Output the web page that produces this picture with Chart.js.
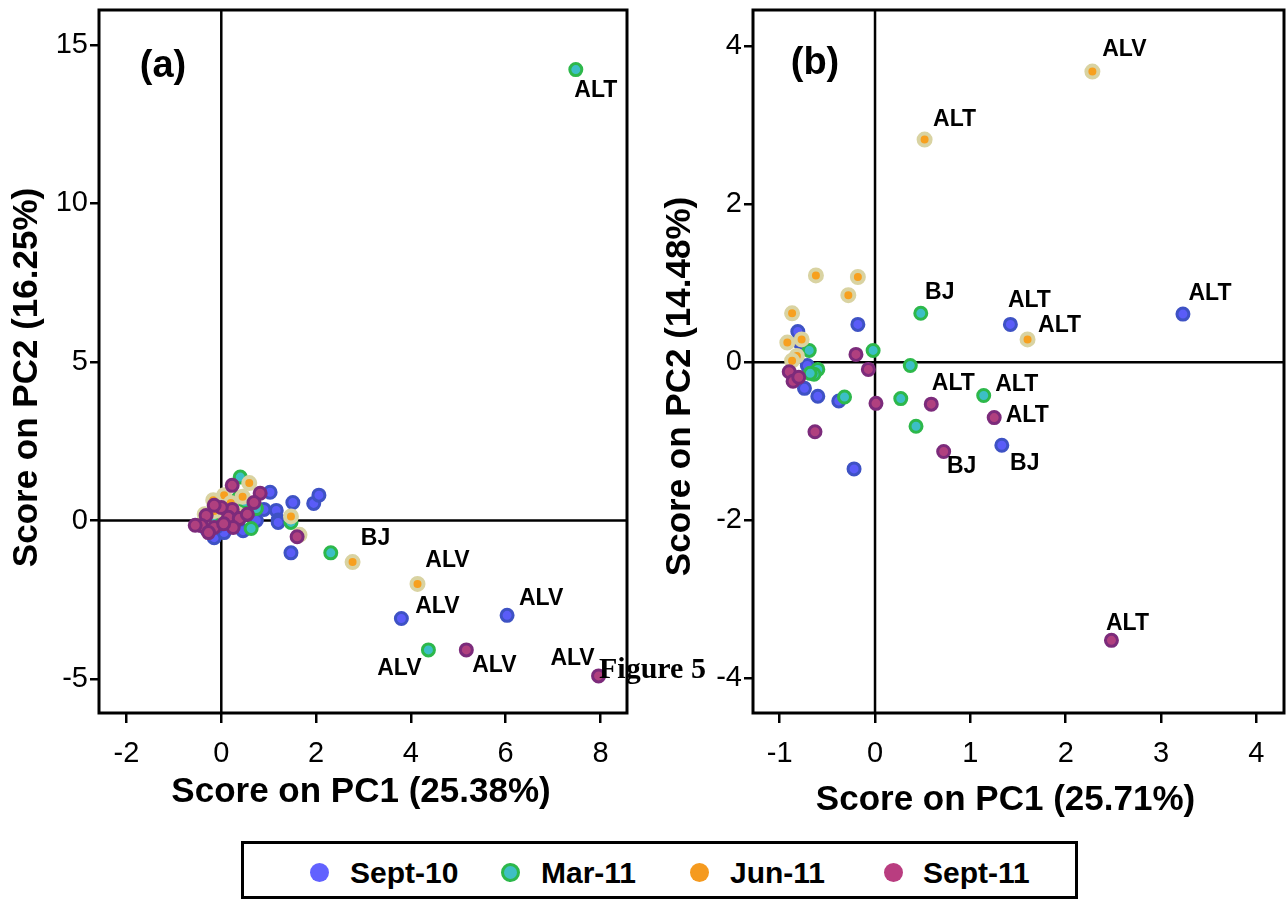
<!DOCTYPE html>
<html>
<head>
<meta charset="utf-8">
<script src="https://cdn.jsdelivr.net/npm/chart.js@4.4.0/dist/chart.umd.min.js"></script>
<style>
  body { margin: 0; background: #fff; width: 1288px; height: 902px; position: relative; overflow: hidden; font-family: "Liberation Sans", Arial, sans-serif; }
  #chartA { position: absolute; left: 0; top: 0; }
  #chartB { position: absolute; left: 640px; top: 0; }
  #legend { position: absolute; left: 241px; top: 841px; width: 831px; height: 52px; border: 3px solid #000; }
  .mk { position: absolute; top: 19px; width: 19px; height: 19px; border-radius: 50%; box-sizing: border-box; }
  .lt { position: absolute; top: 14px; font: bold 30px "Liberation Sans", Arial, sans-serif; line-height: 30px; color: #000; }
  #fig { position: absolute; left: 599px; top: 653px; font: bold 30px "Liberation Serif", "Times New Roman", serif; line-height: 30px; color: #000; }
</style>
</head>
<body>
<canvas id="chartA" width="640" height="820"></canvas>
<canvas id="chartB" width="658" height="820"></canvas>
<div id="legend">
  <div class="mk" style="left:66px;background:#6262ff"></div><div class="lt" style="left:106px">Sept-10</div>
  <div class="mk" style="left:257px;background:#3fbfc4;border:3px solid #2db84b"></div><div class="lt" style="left:297px">Mar-11</div>
  <div class="mk" style="left:446px;background:#f59a1f"></div><div class="lt" style="left:486px">Jun-11</div>
  <div class="mk" style="left:640px;background:#b93d80"></div><div class="lt" style="left:679px">Sept-11</div>
</div>
<div id="fig">Figure 5</div>
<script>
// ---- data: panel (a) ----
const seriesNames = ['Sept-10', 'Mar-11', 'Jun-11', 'Sept-11'];

const sept10A = [[1.47,-1.02],[3.80,-3.09],[6.03,-2.99],[1.51,0.57],[1.95,0.54],[2.06,0.80],[1.03,0.89],[1.16,0.32],[1.20,0.02],[1.20,-0.06],[0.67,0.22],[0.74,0.0],[0.46,-0.32],[-0.15,-0.54],[0.06,-0.38],[-0.30,-0.30],[0.20,-0.10],[0.40,0.10],[0.90,0.35],[-0.10,-0.20]];
const mar11A = [[7.48,14.22],[2.31,-1.02],[4.37,-4.08],[1.47,-0.06],[0.40,1.37],[0.36,0.70],[0.74,0.38],[0.63,-0.25],[0.10,0.30],[-0.20,0.10],[0.30,0.05],[-0.35,-0.05],[0.50,0.60],[0.0,0.50]];
const jun11A = [[2.77,-1.31],[4.14,-2.0],[1.47,0.13],[1.65,-0.45],[0.59,1.18],[0.06,0.80],[-0.17,0.64],[-0.15,0.30],[0.20,0.55],[0.35,0.20],[-0.35,0.20],[0.10,0.05],[-0.40,-0.10],[0.45,0.75]];
const sept11A = [[5.17,-4.08],[7.96,-4.90],[1.60,-0.51],[0.23,1.11],[0.82,0.86],[0.69,0.57],[0.23,0.35],[0.0,0.41],[-0.15,0.48],[-0.32,0.16],[-0.42,-0.16],[-0.15,-0.22],[0.15,0.10],[0.38,0.06],[0.25,-0.22],[-0.27,-0.38],[0.55,0.20],[-0.55,-0.15],[0.05,-0.10]];
const xTicksA = [-2, 0, 2, 4, 6, 8];
const yTicksA = [-5, 0, 5, 10, 15];
// labelled points: [series, index, text]
const namesA = [['Mar-11',0,'ALT'],['Jun-11',0,'BJ'],['Jun-11',1,'ALV'],['Sept-10',1,'ALV'],['Sept-10',2,'ALV'],['Mar-11',2,'ALV'],['Sept-11',0,'ALV'],['Sept-11',1,'ALV']];

// ---- data: panel (b) ----
const sept10B = [[3.23,0.61],[1.42,0.48],[1.33,-1.05],[-0.18,0.48],[-0.81,0.39],[-0.79,0.25],[-0.71,-0.04],[-0.74,-0.33],[-0.60,-0.43],[-0.38,-0.49],[-0.22,-1.35]];
const mar11B = [[0.48,0.62],[-0.69,0.15],[-0.02,0.15],[-0.60,-0.09],[-0.64,-0.15],[-0.68,-0.14],[-0.32,-0.44],[0.27,-0.46],[0.37,-0.04],[1.14,-0.42],[0.43,-0.81]];
const jun11B = [[2.28,3.68],[0.52,2.82],[-0.62,1.10],[-0.18,1.08],[-0.28,0.85],[-0.87,0.62],[1.60,0.29],[-0.92,0.25],[-0.77,0.29],[-0.82,0.08],[-0.87,0.02]];
const sept11B = [[2.48,-3.52],[-0.20,0.10],[-0.07,-0.09],[-0.90,-0.12],[-0.86,-0.24],[-0.80,-0.19],[0.01,-0.52],[-0.63,-0.88],[0.59,-0.53],[1.25,-0.70],[0.72,-1.13]];
const xTicksB = [-1, 0, 1, 2, 3, 4];
const yTicksB = [-4, -2, 0, 2, 4];
const namesB = [['Jun-11',0,'ALV'],['Jun-11',1,'ALT'],['Mar-11',0,'BJ'],['Sept-10',1,'ALT'],['Jun-11',6,'ALT'],['Sept-10',0,'ALT'],['Sept-11',8,'ALT'],['Mar-11',9,'ALT'],['Sept-11',9,'ALT'],['Sept-11',10,'BJ'],['Sept-10',2,'BJ'],['Sept-11',0,'ALT']];

// label offsets from their point, px
const offsetsA = [[20,21],[23,-23],[30,-23],[36,-12],[34,-17],[-29,19],[28,16],[-26,-17]];
const offsetsB = [[32,-22],[30,-20],[19,-21],[19,-24],[32,-14],[27,-20],[22,-20],[33,-11],[33,-2],[18,15],[23,18],[16,-17]];

const styles = {
  'Sept-10': { bg: '#5a5cf8', border: '#3e52c4', bw: 3 },
  'Mar-11': { bg: '#3cbfc6', border: '#2db84b', bw: 3 },
  'Jun-11': { bg: '#f7a01f', border: '#d9d3a2', bw: 4 },
  'Sept-11': { bg: '#b0407f', border: '#7c2b7b', bw: 3 }
};

const toXY = arr => arr.map(p => ({ x: p[0], y: p[1] }));

const decor = {
  id: 'decor',
  beforeDatasetsDraw(chart, args, o) {
    const { ctx, chartArea: a, scales: { x, y } } = chart;
    const x0 = x.getPixelForValue(0), y0 = y.getPixelForValue(0);
    ctx.save();
    ctx.strokeStyle = '#000';
    ctx.lineWidth = 2.5;
    ctx.beginPath();
    ctx.moveTo(x0, a.top); ctx.lineTo(x0, a.bottom);
    ctx.moveTo(a.left, y0); ctx.lineTo(a.right, y0);
    ctx.stroke();
    ctx.restore();
  },
  afterDatasetsDraw(chart, args, o) {
    const ctx = chart.ctx;
    ctx.save();
    ctx.fillStyle = '#000';
    ctx.font = 'bold 23px "Liberation Sans", Arial, sans-serif';
    ctx.textAlign = 'center';
    ctx.textBaseline = 'middle';
    o.names.forEach((n, k) => {
      const di = chart.data.datasets.findIndex(d => d.label === n[0]);
      const el = chart.getDatasetMeta(di).data[n[1]];
      ctx.fillText(n[2], el.x + o.offsets[k][0], el.y + o.offsets[k][1]);
    });
    ctx.restore();
  },
  afterDraw(chart, args, o) {
    const { ctx, chartArea: a } = chart;
    ctx.save();
    ctx.strokeStyle = '#000';
    ctx.lineWidth = 3;
    ctx.strokeRect(a.left, a.top, a.right - a.left, a.bottom - a.top);
    ctx.fillStyle = '#000';
    ctx.textAlign = 'center';
    ctx.textBaseline = 'middle';
    ctx.font = 'bold 38px "Liberation Sans", Arial, sans-serif';
    ctx.fillText(o.tag, o.tagX, o.tagY);
    ctx.font = 'bold 35px "Liberation Sans", Arial, sans-serif';
    ctx.fillText(o.xTitle, (a.left + a.right) / 2 + o.xTitleDx, o.xTitleY);
    ctx.translate(o.yTitleX, (a.top + a.bottom) / 2 + o.yTitleDy);
    ctx.rotate(-Math.PI / 2);
    ctx.fillText(o.yTitle, 0, 0);
    ctx.restore();
  }
};

// keep the plot box where it is: drop the half-label paddings Chart.js adds
const noPad = s => { s.paddingTop = 0; s.paddingBottom = 0; s.paddingLeft = 0; s.paddingRight = 0; };

function makeChart(id, sets, xr, yr, xTicks, yTicks, yWidth, pad, deco) {
  const datasets = seriesNames.map((name, i) => ({
    label: name,
    data: toXY(sets[i]),
    backgroundColor: styles[name].bg,
    borderColor: styles[name].border,
    borderWidth: styles[name].bw,
    pointRadius: 6,
    order: 4 - i
  }));
  const tickFont = { family: '"Liberation Sans", Arial, sans-serif', size: 29, lineHeight: 1 };
  return new Chart(document.getElementById(id), {
    type: 'scatter',
    data: { datasets },
    plugins: [decor],
    options: {
      responsive: false,
      animation: false,
      layout: { padding: pad },
      plugins: { legend: { display: false }, tooltip: { enabled: false }, decor: deco },
      scales: {
        x: {
          min: xr[0], max: xr[1],
          afterBuildTicks: s => { s.ticks = xTicks.map(v => ({ value: v })); },
          afterFit: s => { s.height = 107; noPad(s); },
          grid: { drawOnChartArea: false, color: '#000', lineWidth: 2.5, tickLength: 10 },
          border: { display: false },
          ticks: { color: '#000', font: tickFont, padding: 16, maxRotation: 0 }
        },
        y: {
          min: yr[0], max: yr[1],
          afterBuildTicks: s => { s.ticks = yTicks.map(v => ({ value: v })); },
          afterFit: s => { s.width = yWidth; noPad(s); },
          grid: { drawOnChartArea: false, color: '#000', lineWidth: 2.5, tickLength: 9 },
          border: { display: false },
          ticks: { color: '#000', font: tickFont, padding: 2 }
        }
      }
    }
  });
}

makeChart('chartA', [sept10A, mar11A, jun11A, sept11A], [-2.58, 8.56], [-6.07, 16.1], xTicksA, yTicksA, 99,
  { left: 0, top: 9, right: 13, bottom: 0 },
  { names: namesA, offsets: offsetsA, tag: '(a)', tagX: 163, tagY: 67,
    xTitle: 'Score on PC1 (25.38%)', xTitleDx: -2, xTitleY: 792,
    yTitle: 'Score on PC2 (16.25%)', yTitleX: 27, yTitleDy: 16 });

makeChart('chartB', [sept10B, mar11B, jun11B, sept11B], [-1.28, 4.29], [-4.44, 4.46], xTicksB, yTicksB, 113,
  { left: 0, top: 8, right: 14, bottom: 0 },
  { names: namesB, offsets: offsetsB, tag: '(b)', tagX: 175, tagY: 64,
    xTitle: 'Score on PC1 (25.71%)', xTitleDx: -13, xTitleY: 800,
    yTitle: 'Score on PC2 (14.48%)', yTitleX: 40, yTitleDy: 25 });
</script>
</body>
</html>
